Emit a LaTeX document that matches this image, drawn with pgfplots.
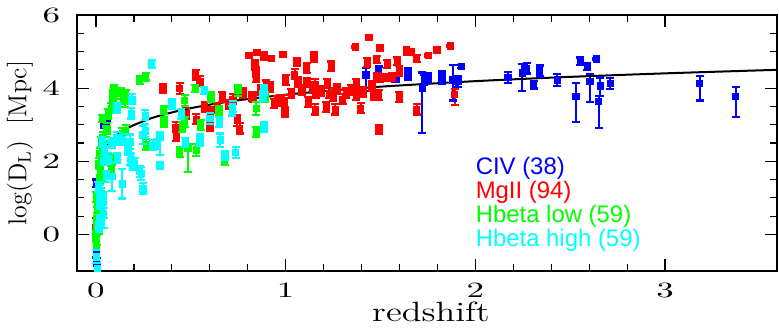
\documentclass[border=0pt]{standalone}
\usepackage{fontspec}
\usepackage{graphicx}
\usepackage{pgfplots}
\usepackage{pgfplotstable}
\pgfplotsset{compat=1.18}
\newfontfamily\legfont{Liberation Sans}
\definecolor{cblue}{RGB}{0,0,255}
\definecolor{cred}{RGB}{255,0,0}
\definecolor{cgreen}{RGB}{0,255,0}
\definecolor{ccyan}{RGB}{0,255,255}

\pgfplotstableread{
x y ep em
1.422 4.36 0.20 0.43
1.490 4.45 0.14 0.14
1.575 4.24 0.04 0.04
1.580 4.25 0.04 0.04
1.645 4.40 0.15 0.15
1.645 4.36 0.14 0.14
1.720 4.01 0.42 1.23
1.730 4.22 0.14 0.14
1.750 4.24 0.10 0.10
1.750 4.27 0.13 0.13
1.826 4.29 0.17 0.17
1.824 4.31 0.14 0.14
1.882 4.22 0.41 0.56
1.900 4.18 0.14 0.14
1.910 4.18 0.14 0.14
1.926 4.60 0.04 0.04
2.172 4.29 0.15 0.15
2.248 4.42 0.25 0.50
2.270 4.54 0.14 0.14
2.307 4.09 0.10 0.10
2.339 4.47 0.15 0.15
2.432 4.22 0.17 0.17
2.529 3.78 0.37 0.71
2.553 4.74 0.10 0.10
2.590 4.59 0.10 0.10
2.638 4.80 0.03 0.03
2.603 4.18 0.21 0.55
2.659 4.06 0.23 0.27
2.650 3.63 0.16 0.71
2.712 4.13 0.15 0.15
3.182 4.13 0.20 0.47
3.372 3.78 0.24 0.58
0.040 3.04 0.13 0.13
0.056 2.99 0.10 0.10
0.002 1.40 0.10 0.10
0.002 0.03 0.10 0.10
0.002 -0.53 0.10 0.10
0.003 -0.75 0.10 0.10
}\civ

\pgfplotstableread{
x y ep em
0.353 3.99 0.13 0.13
0.441 3.99 0.14 0.14
0.525 4.36 0.14 0.14
0.547 4.19 0.14 0.14
0.420 2.93 0.14 0.14
0.424 2.69 0.14 0.14
0.476 3.31 0.14 0.14
0.529 3.15 0.14 0.14
0.573 3.49 0.14 0.14
0.603 3.35 0.14 0.14
0.600 2.97 0.14 0.14
0.666 3.76 0.14 0.14
0.745 3.11 0.14 0.14
0.757 2.90 0.14 0.14
0.775 3.87 0.13 0.13
0.807 4.90 0.03 0.03
0.849 4.97 0.03 0.03
0.886 4.88 0.10 0.10
0.924 4.81 0.03 0.03
0.837 4.63 0.13 0.13
0.842 4.45 0.13 0.13
0.845 4.29 0.13 0.13
0.828 3.76 0.13 0.13
0.898 4.08 0.13 0.13
0.986 4.93 0.03 0.03
1.000 4.22 0.14 0.14
0.991 3.67 0.14 0.14
0.995 3.35 0.14 0.14
1.060 4.72 0.10 0.10
1.047 4.38 0.14 0.14
1.065 4.17 0.14 0.14
0.002 0.35 0.10 0.10
0.000 0.15 0.10 0.10
0.920 4.04 0.13 0.13
0.820 3.77 0.13 0.13
0.722 3.70 0.13 0.13
0.968 3.66 0.14 0.14
1.149 4.86 0.13 0.13
1.241 4.60 0.13 0.13
1.153 4.10 0.14 0.14
1.144 3.99 0.13 0.13
1.220 4.13 0.13 0.13
1.160 3.86 0.13 0.13
1.230 3.86 0.14 0.14
1.270 3.97 0.13 0.13
1.320 3.87 0.13 0.13
1.373 4.13 0.13 0.13
1.373 3.81 0.13 0.13
1.367 5.13 0.03 0.03
1.438 5.38 0.03 0.03
1.496 5.10 0.03 0.03
1.430 4.70 0.13 0.13
1.479 4.78 0.10 0.10
1.536 4.66 0.10 0.10
1.589 4.74 0.10 0.10
1.598 4.47 0.13 0.13
1.637 5.04 0.03 0.03
1.650 4.97 0.03 0.03
1.690 4.81 0.10 0.10
1.752 4.89 0.03 0.03
1.798 5.04 0.03 0.03
1.868 5.16 0.03 0.03
1.479 4.32 0.10 0.10
1.496 4.27 0.10 0.10
1.530 4.29 0.10 0.10
1.466 3.81 0.13 0.13
1.490 3.81 0.13 0.13
1.600 3.76 0.13 0.13
1.395 3.45 0.14 0.14
1.262 3.42 0.14 0.14
1.214 3.49 0.14 0.14
1.156 3.42 0.14 0.14
1.492 2.87 0.13 0.13
1.690 3.42 0.14 0.14
1.890 3.83 0.14 0.29
0.955 3.65 0.13 0.13
1.640 4.99 0.03 0.03
1.663 5.00 0.03 0.03
1.112 4.15 0.13 0.13
1.085 3.95 0.13 0.13
1.120 3.62 0.13 0.13
1.185 3.92 0.13 0.13
1.250 3.78 0.13 0.13
1.300 3.70 0.13 0.13
1.345 3.95 0.13 0.13
1.410 3.90 0.13 0.13
1.455 4.05 0.13 0.13
0.700 3.55 0.13 0.13
0.640 3.45 0.13 0.13
0.940 3.58 0.13 0.13
1.030 3.85 0.13 0.13
0.870 3.95 0.13 0.13
1.560 4.30 0.10 0.10
1.110 4.55 0.13 0.13
}\mgii

\pgfplotstableread{
x y ep em
0.262 4.31 0.10 0.10
0.230 4.22 0.10 0.10
0.095 3.95 0.14 0.14
0.156 3.81 0.14 0.14
0.146 3.70 0.14 0.14
0.081 3.45 0.14 0.14
0.033 3.17 0.10 0.10
0.058 2.90 0.14 0.14
0.054 2.81 0.14 0.14
0.524 3.99 0.10 0.10
0.467 3.67 0.15 0.15
0.357 3.40 0.10 0.10
0.359 3.08 0.13 0.13
0.605 3.76 0.13 0.13
0.647 3.37 0.13 0.13
0.749 3.93 0.14 0.14
0.845 3.45 0.18 0.18
0.845 2.81 0.13 0.13
0.552 2.99 0.13 0.13
0.455 2.94 0.14 0.14
0.467 3.08 0.14 0.14
0.441 2.26 0.14 0.14
0.485 2.35 0.12 0.64
0.529 2.31 0.17 0.17
0.678 1.99 0.10 0.10
0.265 2.46 0.14 0.14
0.156 2.85 0.14 0.14
0.139 2.76 0.14 0.14
0.083 2.03 0.13 0.13
0.019 2.22 0.14 0.14
0.014 1.94 0.14 0.14
0.023 1.76 0.14 0.14
0.009 0.57 0.14 0.14
0.019 0.39 0.14 0.14
0.002 -0.29 0.14 0.14
0.011 0.76 0.14 0.14
0.028 1.12 0.14 0.14
0.090 3.81 0.14 0.14
0.090 3.54 0.14 0.14
0.130 3.85 0.14 0.14
0.155 3.63 0.14 0.14
0.028 2.53 0.14 0.14
0.046 2.03 0.14 0.14
0.002 1.03 0.14 0.14
0.005 0.44 0.14 0.14
0.000 -0.06 0.14 0.14
0.004 0.30 0.14 0.14
0.020 1.49 0.14 0.14
0.081 1.76 0.10 0.10
0.890 3.76 0.13 0.13
0.035 2.65 0.14 0.14
0.012 1.30 0.14 0.14
0.006 0.90 0.14 0.14
0.015 0.15 0.14 0.14
0.003 -0.15 0.14 0.14
0.065 3.30 0.14 0.14
0.040 2.40 0.14 0.14
0.110 3.85 0.14 0.14
0.026 1.60 0.14 0.14
}\hblow

\pgfplotstableread{
x y ep em
0.293 4.66 0.10 0.10
0.190 3.70 0.13 0.13
0.110 3.46 0.14 0.14
0.260 3.26 0.14 0.14
0.400 3.56 0.13 0.13
0.450 3.29 0.13 0.13
0.570 3.93 0.10 0.10
0.600 3.17 0.14 0.14
0.720 3.49 0.15 0.15
0.886 3.94 0.13 0.13
0.886 2.94 0.14 0.14
0.650 3.08 0.14 0.14
0.656 2.58 0.18 0.18
0.680 2.16 0.13 0.13
0.736 2.25 0.15 0.15
0.547 2.58 0.15 0.15
0.470 2.51 0.13 0.13
0.336 2.67 0.14 0.50
0.323 2.47 0.14 0.14
0.300 2.44 0.14 0.14
0.337 1.89 0.10 0.10
0.260 2.83 0.18 0.18
0.248 2.72 0.25 0.25
0.240 1.67 0.18 0.18
0.248 1.26 0.14 0.14
0.178 2.53 0.20 0.20
0.169 2.31 0.14 0.14
0.112 2.08 0.13 0.13
0.086 1.58 0.40 0.40
0.139 1.38 0.40 0.40
0.186 2.05 0.18 0.18
0.195 1.90 0.14 0.14
0.204 1.94 0.14 0.14
0.121 2.58 0.14 0.14
0.110 2.65 0.14 0.14
0.033 2.53 0.14 0.14
0.046 2.35 0.14 0.14
0.042 2.03 0.14 0.14
0.012 1.30 0.14 0.14
0.019 1.12 0.14 0.14
0.030 0.94 0.14 0.14
0.040 1.03 0.14 0.85
0.002 -0.61 0.18 0.18
0.007 -0.93 0.14 0.14
0.021 1.21 0.14 0.14
0.039 0.94 0.14 0.14
0.040 0.58 0.14 0.14
0.015 0.21 0.14 0.14
0.055 1.58 0.14 0.14
0.020 0.85 0.14 0.14
0.020 0.40 0.14 0.14
0.063 2.08 0.14 0.14
0.187 3.31 0.14 0.14
0.180 2.03 0.14 0.14
0.230 1.72 0.14 0.14
0.140 2.60 0.14 0.14
0.719 3.38 0.13 0.13
0.880 3.78 0.13 0.13
0.085 2.50 0.14 0.14
}\hbhigh

\pgfplotstableread{
x y
0.009 1.590
0.012 1.718
0.015 1.813
0.02 1.940
0.03 2.119
0.04 2.247
0.05 2.347
0.07 2.500
0.1 2.663
0.15 2.853
0.2 2.991
0.3 3.191
0.4 3.335
0.5 3.452
0.6 3.548
0.7 3.630
0.8 3.702
1.0 3.820
1.2 3.918
1.5 4.040
2.0 4.191
2.5 4.308
3.0 4.404
3.5 4.486
3.6 4.500
}\dlcurve

\pgfplotsset{
  errstyle/.style={
    error bars/.cd, y dir=both, y explicit,
    error bar style={line width=1bp},
    error mark=none,
  },
  capstyle/.style={only marks, mark=-, mark size=2bp, mark options={solid, line width=1.1bp}},
}

\begin{document}
\begin{tikzpicture}
\begin{axis}[
  name=ax,
  scale only axis,
  width=350bp, height=128bp,
  xmin=-0.1, xmax=3.59, ymin=-1, ymax=6,
  xtick={0,1,2,3}, minor x tick num=4,
  ytick={0,2,4,6}, minor y tick num=3,
  tick align=inside,
  major tick length=6bp, minor tick length=3.5bp,
  axis line style={line width=0.8bp},
  every tick/.style={black, line width=0.6bp},
  tick label style={font=\fontsize{10.5}{12}\selectfont},
  xticklabel={\scalebox{1.6}[1]{\pgfmathprintnumber{\tick}}},
  yticklabel={\scalebox{1.6}[1]{\pgfmathprintnumber{\tick}}},
  xticklabel style={yshift=-2.5bp},
  yticklabel style={xshift=-5bp},
]
% CIV
\addplot[only marks, mark=square*, mark size=1.6bp, color=cblue, errstyle]
  table[x=x, y=y, y error plus=ep, y error minus=em] {\civ};
\addplot[capstyle, color=cblue] table[x=x, y expr=\thisrow{y}+\thisrow{ep}] {\civ};
\addplot[capstyle, color=cblue] table[x=x, y expr=\thisrow{y}-\thisrow{em}] {\civ};
% MgII
\addplot[only marks, mark=square*, mark size=1.6bp, color=cred, errstyle]
  table[x=x, y=y, y error plus=ep, y error minus=em] {\mgii};
\addplot[capstyle, color=cred] table[x=x, y expr=\thisrow{y}+\thisrow{ep}] {\mgii};
\addplot[capstyle, color=cred] table[x=x, y expr=\thisrow{y}-\thisrow{em}] {\mgii};
% Hbeta low
\addplot[only marks, mark=square*, mark size=1.6bp, color=cgreen, errstyle]
  table[x=x, y=y, y error plus=ep, y error minus=em] {\hblow};
\addplot[capstyle, color=cgreen] table[x=x, y expr=\thisrow{y}+\thisrow{ep}] {\hblow};
\addplot[capstyle, color=cgreen] table[x=x, y expr=\thisrow{y}-\thisrow{em}] {\hblow};
% Hbeta high
\addplot[only marks, mark=square*, mark size=1.6bp, color=ccyan, errstyle]
  table[x=x, y=y, y error plus=ep, y error minus=em] {\hbhigh};
\addplot[capstyle, color=ccyan] table[x=x, y expr=\thisrow{y}+\thisrow{ep}] {\hbhigh};
\addplot[capstyle, color=ccyan] table[x=x, y expr=\thisrow{y}-\thisrow{em}] {\hbhigh};
% luminosity distance
\addplot[black, line width=1bp, smooth] table[x=x, y=y] {\dlcurve};

\node[anchor=base west, text=cblue, font=\legfont\fontsize{12}{14}\selectfont, inner sep=0pt] at (axis cs:2.0,1.65) {CIV (38)};
\node[anchor=base west, text=cred, font=\legfont\fontsize{12}{14}\selectfont, inner sep=0pt] at (axis cs:2.0,0.99) {MgII (94)};
\node[anchor=base west, text=cgreen, font=\legfont\fontsize{12}{14}\selectfont, inner sep=0pt] at (axis cs:2.0,0.33) {Hbeta low (59)};
\node[anchor=base west, text=ccyan, font=\legfont\fontsize{12}{14}\selectfont, inner sep=0pt] at (axis cs:2.0,-0.33) {Hbeta high (59)};
\end{axis}
\path (ax.west) ++(-28.5bp,0) node[rotate=90, inner sep=0pt, font=\fontsize{13}{15}\selectfont] {log(D$_{\mathrm{L}}$)\ \ [Mpc]};
\path (ax.south) ++(2bp,-25.5bp) node[anchor=base, inner sep=0pt, font=\fontsize{14}{16}\selectfont] {\scalebox{1.3}[1]{redshift}};
\pgfresetboundingbox
\path[use as bounding box] ([xshift=-38.5bp,yshift=-31bp]ax.south west) rectangle ([xshift=1bp,yshift=7.5bp]ax.north east);
\end{tikzpicture}
\end{document}
